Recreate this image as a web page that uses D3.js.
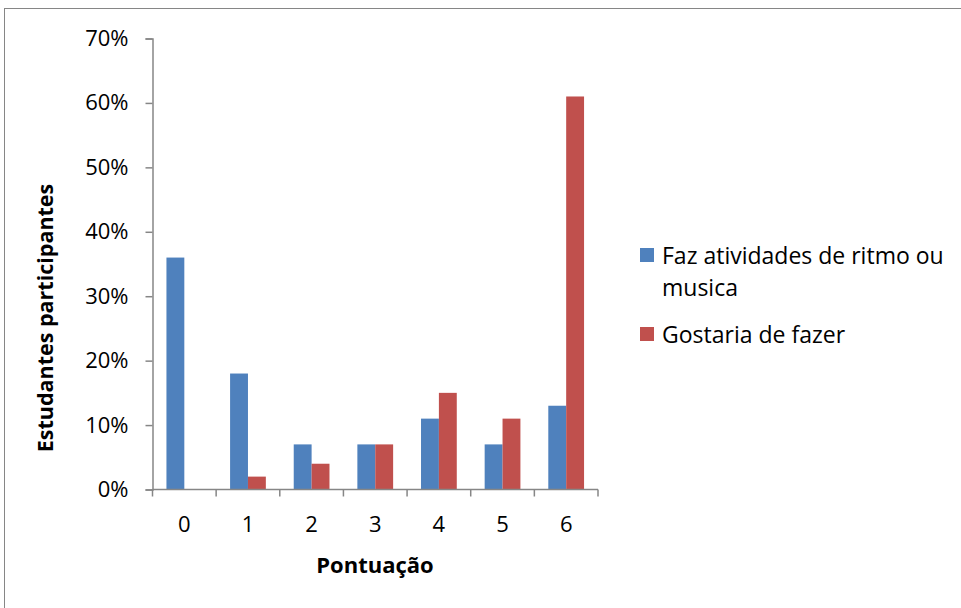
<!DOCTYPE html>
<html>
<head>
<meta charset="utf-8">
<script src="https://cdn.jsdelivr.net/npm/d3@7"></script>
<style>
  body { margin: 0; background: #fff; }
  text { font-family: "Open Sans", sans-serif; fill: #000; }
</style>
</head>
<body>
<svg class="chart"></svg>
<script>
// pontuacao 0..6, valores em %
var categories = ["0", "1", "2", "3", "4", "5", "6"];
var seriesNames = ["Faz atividades de ritmo ou musica", "Gostaria de fazer"];
var fazValues = [36, 18, 7, 7, 11, 7, 13];
var gostariaValues = [0, 2, 4, 7, 15, 11, 61];
var yTicks = [0, 10, 20, 30, 40, 50, 60, 70];
var colors = ["#4F81BD", "#C0504D"];

var W = 961, H = 608,
  margin = {top: 38.5, right: 363, bottom: 118.5, left: 152.5},
  width = W - margin.left - margin.right,
  height = H - margin.top - margin.bottom;

var svg = d3.select(".chart").attr("width", W).attr("height", H);

// moldura do grafico
svg.append("rect")
   .attr("x", 4.5).attr("y", 8.5)
   .attr("width", W + 10).attr("height", H + 10)
   .attr("fill", "none").attr("stroke", "#868686").attr("stroke-width", 1);

var g = svg.append("g")
           .attr("transform", "translate(" + margin.left + "," + margin.top + ")");

var xScale = d3.scaleBand()
               .domain(categories)
               .range([0, width])
               .paddingInner(0)
               .paddingOuter(0);
var inner = d3.scaleBand()
              .domain([0, 1])
              .range([0, xScale.bandwidth()])
              .paddingInner(0)
              .paddingOuter(0.78);
var yScale = d3.scaleLinear().domain([0, 70]).range([height, 0]);

var data = categories.map(function(c, i){
  return {cat: c, vals: [fazValues[i], gostariaValues[i]]};
});

var groups = g.selectAll(".grp")
              .data(data)
              .enter().append("g")
              .attr("transform", function(d){ return "translate(" + xScale(d.cat) + ",0)"; });

groups.selectAll("rect")
      .data(function(d){ return d.vals.map(function(v, k){ return {k: k, v: v}; }); })
      .enter().append("rect")
      .attr("x", function(d){ return inner(d.k); })
      .attr("y", function(d){ return yScale(d.v); })
      .attr("width", inner.bandwidth())
      .attr("height", function(d){ return height - yScale(d.v); })
      .attr("fill", function(d){ return colors[d.k]; });

// eixo y
var yAxis = g.append("g")
             .call(d3.axisLeft(yScale).tickValues(yTicks)
                     .tickFormat(function(d){ return d + "%"; })
                     .tickSizeInner(7).tickSizeOuter(7).tickPadding(17));
yAxis.selectAll("text").style("font-size", "22px");

// eixo x: ticks nas bordas das categorias
var xAxis = g.append("g").attr("transform", "translate(0," + height + ")");
xAxis.append("line").attr("x1", 0).attr("x2", width).attr("y1", 0).attr("y2", 0);
xAxis.selectAll(".tk")
     .data(d3.range(categories.length + 1))
     .enter().append("line")
     .attr("x1", function(i){ return i * xScale.bandwidth(); })
     .attr("x2", function(i){ return i * xScale.bandwidth(); })
     .attr("y1", 0).attr("y2", 7);
xAxis.selectAll("text")
     .data(categories)
     .enter().append("text")
     .attr("x", function(d){ return xScale(d) + xScale.bandwidth() / 2; })
     .attr("y", 42)
     .attr("text-anchor", "middle")
     .style("font-size", "22px")
     .text(function(d){ return d; });

svg.selectAll(".domain, .tick line, g line")
   .attr("stroke", "#868686").attr("stroke-width", 1.5);

// titulos
svg.append("text")
   .attr("x", 375).attr("y", 573)
   .attr("text-anchor", "middle")
   .style("font-size", "22px").style("font-weight", "bold")
   .text("Pontuação");
svg.append("text")
   .attr("transform", "translate(53,318) rotate(-90)")
   .attr("text-anchor", "middle")
   .style("font-size", "21.5px").style("font-weight", "bold")
   .text("Estudantes participantes");

// legenda
var legend = svg.append("g").attr("transform", "translate(640,0)");
legend.append("rect").attr("x", 0).attr("y", 248).attr("width", 14).attr("height", 14).attr("fill", colors[0]);
legend.append("text").attr("x", 22).attr("y", 264).style("font-size", "23px").text("Faz atividades de ritmo ou");
legend.append("text").attr("x", 22).attr("y", 296).style("font-size", "23px").text("musica");
legend.append("rect").attr("x", 0).attr("y", 327).attr("width", 14).attr("height", 14).attr("fill", colors[1]);
legend.append("text").attr("x", 22).attr("y", 343).style("font-size", "23px").text(seriesNames[1]);
</script>
</body>
</html>
